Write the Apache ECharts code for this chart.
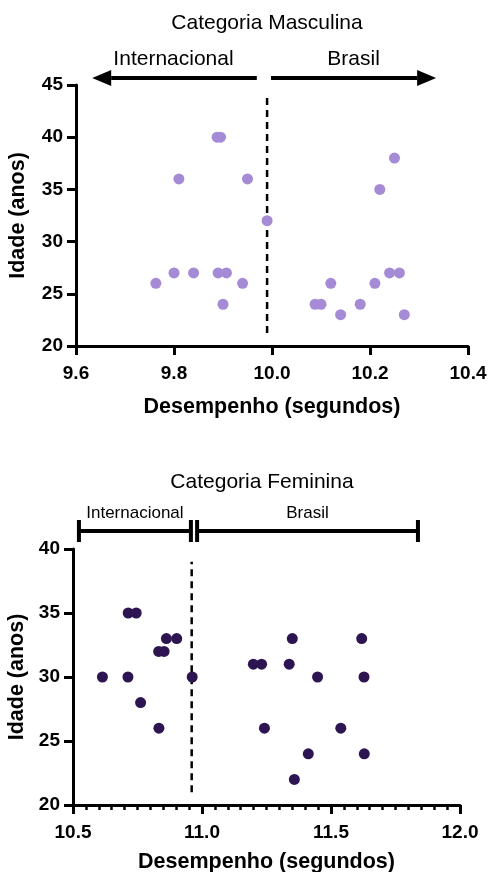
<!DOCTYPE html>
<html><head><meta charset="utf-8">
<script src="https://cdn.jsdelivr.net/npm/echarts@6/dist/echarts.min.js"></script>
<style>html,body{margin:0;padding:0;background:#fff}#c{width:488px;height:872px}</style>
</head><body><div id="c"></div>
<script>
// ---- data ----
const maleTime = [9.763, 9.80, 9.84, 9.89, 9.907, 9.94, 9.90, 9.81, 9.95, 9.99, 9.888, 9.895, 10.088, 10.10, 10.12, 10.14, 10.18, 10.21, 10.24, 10.26, 10.27, 10.25, 10.22];
const maleAge  = [26, 27, 27, 27, 27, 26, 24, 36, 36, 32, 40, 40, 24, 24, 26, 23, 24, 26, 27, 27, 23, 38, 35];
const femaleTime = [10.714, 10.745, 10.862, 10.902, 10.832, 10.853, 10.614, 10.713, 10.962, 10.762, 10.833, 11.35, 11.619, 11.199, 11.231, 11.338, 11.448, 11.628, 11.242, 11.538, 11.412, 11.629, 11.358];
const femaleAge  = [35, 35, 33, 33, 32, 32, 30, 30, 30, 28, 26, 33, 33, 31, 31, 31, 30, 30, 26, 26, 24, 24, 22];
const maleDividerX = [9.99, 9.99];
const maleDividerY = [21.25, 43.75];
const femaleDividerX = [10.96, 10.96];
const femaleDividerY = [21, 39];
const maleIntSpan = [9.969, 9.633];
const maleBrSpan = [9.998, 10.335];
const femaleIntSpan = [10.523, 10.957];
const femaleBrSpan = [10.981, 11.837];
const regionLabels = ['Internacional', 'Brasil'];
const titles = ['Categoria Masculina', 'Categoria Feminina'];
const xTitle = 'Desempenho (segundos)';
const yTitle = 'Idade (anos)';

const pair = (xs, ys) => xs.map((x, i) => [x, ys[i]]);
const FONT = 'Liberation Sans, Arial, Helvetica, sans-serif';
const axisLineStyle = { color: '#000', width: 3 };
const labelStyle = { color: '#000', fontSize: 19, fontWeight: 'bold', fontFamily: FONT };
const nameStyle = { color: '#000', fontSize: 21.5, fontWeight: 'bold', fontFamily: FONT };

const chart = echarts.init(document.getElementById('c'), null, { renderer: 'canvas' });

function xAxis(gi, min, max, interval, gap, minor) {
  return {
    type: 'value', gridIndex: gi, min, max, interval,
    name: xTitle, nameLocation: 'middle', nameGap: gap, nameTextStyle: nameStyle,
    axisLine: { show: true, onZero: false, lineStyle: axisLineStyle },
    axisTick: { show: true, length: 9, lineStyle: { color: '#000', width: 3 } },
    minorTick: minor ? { show: true, splitNumber: 10, length: 5, lineStyle: { color: '#000', width: 2.5 } } : { show: false },
    axisLabel: { ...labelStyle, margin: 18, formatter: v => v.toFixed(1) },
    splitLine: { show: false }
  };
}
function yAxis(gi, min, max, gap) {
  return {
    type: 'value', gridIndex: gi, min, max, interval: 5,
    name: yTitle, nameLocation: 'middle', nameGap: gap, nameTextStyle: nameStyle,
    axisLine: { show: true, onZero: false, lineStyle: axisLineStyle },
    axisTick: { show: true, length: 9, lineStyle: { color: '#000', width: 3 } },
    axisLabel: { ...labelStyle, margin: 13 },
    splitLine: { show: false }
  };
}

chart.setOption({
  animation: false,
  backgroundColor: '#fff',
  grid: [
    { left: 76, width: 392, top: 85, height: 261, containLabel: false, outerBoundsMode: 'none' },
    { left: 73, width: 387, top: 549, height: 256, containLabel: false, outerBoundsMode: 'none' }
  ],
  xAxis: [xAxis(0, 9.6, 10.4, 0.2, 50, false), xAxis(1, 10.5, 12.0, 0.5, 46, true)],
  yAxis: [yAxis(0, 20, 45, 47), yAxis(1, 20, 40, 44)],
  series: [
    { type: 'line', xAxisIndex: 0, yAxisIndex: 0, data: pair(maleDividerX, maleDividerY), symbol: 'none',
      lineStyle: { color: '#000', width: 2.5, type: [7, 5] }, z: 1 },
    { type: 'line', xAxisIndex: 1, yAxisIndex: 1, data: pair(femaleDividerX, femaleDividerY), symbol: 'none',
      lineStyle: { color: '#000', width: 2.5, type: [7, 5] }, z: 1 },
    { type: 'scatter', xAxisIndex: 0, yAxisIndex: 0, data: pair(maleTime, maleAge), symbolSize: 11,
      itemStyle: { color: '#a58bd6', opacity: 1 }, z: 3 },
    { type: 'scatter', xAxisIndex: 1, yAxisIndex: 1, data: pair(femaleTime, femaleAge), symbolSize: 11,
      itemStyle: { color: '#2c1551', opacity: 1 }, z: 3 }
  ]
});

function px(gi, x, y) { return chart.convertToPixel({ gridIndex: gi }, [x, y]); }
function text(str, x, y, size) {
  return { type: 'text', x, y, z: 10,
    style: { text: str, font: size + 'px ' + FONT, fill: '#000', align: 'center', verticalAlign: 'middle', textAlign: 'center', textVerticalAlign: 'middle' } };
}
function arrow(x1, x2, y) {
  const dir = x2 > x1 ? 1 : -1, head = 19, half = 8;
  return [
    { type: 'line', z: 10, shape: { x1, y1: y, x2: x2 - dir * head, y2: y }, style: { stroke: '#000', lineWidth: 4 } },
    { type: 'polygon', z: 10, shape: { points: [[x2, y], [x2 - dir * head, y - half], [x2 - dir * head, y + half]] }, style: { fill: '#000' } }
  ];
}
function bracket(x1, x2, y) {
  return [
    { type: 'line', z: 10, shape: { x1, y1: y, x2, y2: y }, style: { stroke: '#000', lineWidth: 4 } },
    { type: 'line', z: 10, shape: { x1: x1, y1: y - 11, x2: x1, y2: y + 11 }, style: { stroke: '#000', lineWidth: 4 } },
    { type: 'line', z: 10, shape: { x1: x2, y1: y - 11, x2: x2, y2: y + 11 }, style: { stroke: '#000', lineWidth: 4 } }
  ];
}

const g = [];
// top chart annotations
const top0 = px(0, 9.6, 45)[1];
const mI = [px(0, maleIntSpan[0], 45)[0], px(0, maleIntSpan[1], 45)[0]];
const mB = [px(0, maleBrSpan[0], 45)[0], px(0, maleBrSpan[1], 45)[0]];
g.push(...arrow(mI[0], mI[1], top0 - 7), ...arrow(mB[0], mB[1], top0 - 7));
g.push(text(regionLabels[0], (mI[0] + mI[1]) / 2 - 1, top0 - 26, 21));
g.push(text(regionLabels[1], (mB[0] + mB[1]) / 2, top0 - 26, 21));
g.push(text(titles[0], 267, top0 - 62, 21));
// bottom chart annotations
const top1 = px(1, 10.5, 40)[1];
const fI = [px(1, femaleIntSpan[0], 40)[0], px(1, femaleIntSpan[1], 40)[0]];
const fB = [px(1, femaleBrSpan[0], 40)[0], px(1, femaleBrSpan[1], 40)[0]];
g.push(...bracket(fI[0], fI[1], top1 - 18), ...bracket(fB[0], fB[1], top1 - 18));
g.push(text(regionLabels[0], (fI[0] + fI[1]) / 2, top1 - 36, 17));
g.push(text(regionLabels[1], (fB[0] + fB[1]) / 2, top1 - 36, 17));
g.push(text(titles[1], 262, top1 - 67, 21));

chart.setOption({ graphic: g });
</script>
</body></html>
